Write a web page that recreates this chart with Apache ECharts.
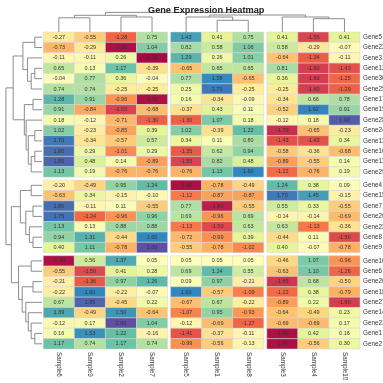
<!DOCTYPE html>
<html><head><meta charset="utf-8">
<script src="https://cdn.jsdelivr.net/npm/echarts@6/dist/echarts.min.js"></script>
<style>html,body{margin:0;padding:0;background:#fff}#c{width:383px;height:383px}</style>
</head><body><div id="c"></div>
<script>
const samples = ['Sample6','Sample9','Sample2','Sample7','Sample5','Sample1','Sample8','Sample3','Sample4','Sample10'];
const colGroups = [0,0,0,0,1,1,1,2,2,2];
const genes = ['Gene5','Gene22','Gene3','Gene12','Gene30','Gene25','Gene17','Gene19','Gene28','Gene24','Gene13','Gene16','Gene11','Gene29',
  'Gene4','Gene15','Gene7','Gene20','Gene23','Gene8','Gene9',
  'Gene10','Gene6','Gene26','Gene18','Gene27','Gene14','Gene21','Gene1','Gene2'];
const rowGroups = [0,0,0,0,0,0,0,0,0,0,0,0,0,0, 1,1,1,1,1,1,1, 2,2,2,2,2,2,2,2,2];
const clusterA = [
[-0.27,-0.55,-1.28,0.75,1.43,0.41,0.75,0.41,-1.55,0.41],
[-0.73,-0.29,-1.90,1.04,0.82,0.58,1.06,0.58,-0.29,-0.07],
[-0.11,-0.11,0.26,-1.95,1.29,0.26,1.01,-0.64,-1.34,-0.11],
[0.65,0.13,1.17,-0.39,-0.65,0.65,0.65,0.81,-1.60,-1.43],
[-0.04,0.77,0.36,-0.04,0.77,1.58,-0.65,0.36,-1.60,-1.25],
[0.74,0.74,-0.25,-0.25,0.25,1.71,-0.25,-0.25,-1.60,-1.29],
[1.28,0.91,-0.96,-1.90,0.16,-0.34,-0.09,-0.34,0.66,0.78],
[0.91,-0.84,-1.55,-0.68,-0.37,0.43,0.11,-0.52,1.62,0.91],
[0.18,-0.12,-0.71,-1.30,-1.30,1.07,0.18,-0.12,0.18,1.90],
[1.02,-0.23,-0.85,0.39,1.02,-0.39,1.22,-1.70,-0.65,-0.23],
[1.70,-0.34,-0.57,0.57,0.34,0.11,0.80,-1.43,-1.43,0.34],
[1.80,0.29,-1.01,0.29,-1.35,0.62,0.94,-0.58,-0.36,-0.68],
[1.85,0.48,0.14,-0.89,-1.55,0.82,0.48,-0.89,-0.55,0.14],
[1.13,0.19,-0.76,-0.76,-0.76,1.13,1.60,-1.22,-0.76,0.19]];
const clusterB = [
[-0.20,-0.49,0.95,1.24,-1.90,-0.78,-0.49,1.24,0.38,0.09],
[-0.63,0.34,-0.15,-0.10,-1.12,-0.87,-0.87,1.70,1.45,-0.15],
[1.80,-0.11,0.11,-0.55,0.77,-1.80,-0.55,0.55,0.33,-0.55],
[1.75,-1.24,-0.96,0.96,0.69,-0.96,0.69,-0.14,-0.14,-0.69],
[1.13,0.13,0.88,0.88,-1.13,-1.50,0.63,0.63,-1.13,-0.36],
[0.94,1.31,-0.44,1.60,-0.72,-0.99,0.39,-0.44,0.11,-1.50],
[0.40,1.11,-0.78,2.00,-0.55,-0.78,-1.02,0.40,-0.07,-0.78]];
const clusterC = [
[-1.90,0.56,1.37,0.05,0.05,0.05,0.05,-0.46,1.07,-0.96],
[-0.55,-1.50,0.41,0.28,0.69,1.24,0.55,-0.63,1.10,-1.26],
[-0.21,-1.36,0.97,1.26,0.09,0.97,-0.21,-1.65,0.68,-0.50],
[-0.22,1.60,-0.22,-0.07,1.60,-0.57,-1.09,-1.22,0.38,-0.79],
[0.67,1.85,-0.45,0.22,-0.67,0.67,-0.22,-0.89,0.22,-1.60],
[1.39,-0.49,1.50,-0.64,-1.07,0.95,-0.93,-0.64,-0.49,0.23],
[-0.12,0.17,2.00,1.04,-0.12,-0.69,-1.27,-0.69,-0.69,0.17],
[0.16,1.53,1.22,-0.16,-1.41,-0.37,-0.11,-1.90,0.42,0.16],
[1.17,0.74,1.17,0.74,-0.99,-0.56,-0.13,-1.90,-0.56,0.30]];
// hclust-style merges: negative = leaf (display order, 1-based), positive = earlier merge (1-based); third = height
const colMerge = [[-1,-2,14.2],[-3,-4,15],[1,2,16.7],[-6,-7,11.7],[-5,4,15],[-9,-10,13.3],[-8,6,15],[5,7,17],[3,8,19.6]];
const rowMerge = [
[-1,-2,2],[-4,-5,2],[2,-6,3],[-3,3,4],[1,4,5.3],
[-7,-8,2.5],[-10,-11,2],[-12,-13,2],[8,-14,3],[7,9,3.8],[-9,10,4.4],[6,11,4.9],[5,12,8],
[-15,-16,3],[-17,-18,2.5],[-20,-21,2.5],[-19,16,3.5],[15,17,4.5],[14,18,6],
[-22,-23,3],[-24,-25,2.5],[-29,-30,2],[-28,22,3],[-27,23,3.8],[-26,24,4.5],[21,25,5.5],[20,26,6.5],
[19,27,8.5],[13,28,10]];

const colGap = 0.097, rowGap = 0.29;
const nCol = samples.length, nRow = genes.length;
const xMax = nCol + 2*colGap, yMax = nRow + 2*rowGap;
const values = clusterA.concat(clusterB, clusterC);
const cellData = [];
values.forEach((row, r) => row.forEach((v, c) => cellData.push([c, r, v])));
const colPos = i => i + colGroups[i]*colGap + 0.5;
const rowPos = i => i + rowGroups[i]*rowGap + 0.5;

function buildTree(merge, leafPos){
  const nodes = [];
  const get = k => k < 0 ? {p: leafPos(-k-1), h: 0} : nodes[k-1];
  const segs = [];
  merge.forEach(m => {
    const a = get(m[0]), b = get(m[1]);
    segs.push([[a.p, a.h],[a.p, m[2]],[b.p, m[2]],[b.p, b.h]]);
    nodes.push({p:(a.p+b.p)/2, h:m[2]});
  });
  return segs;
}
const colSegs = buildTree(colMerge, colPos);
const rowSegs = buildTree(rowMerge, rowPos);
const spectral = ['#9E0142','#D53E4F','#F46D43','#FDAE61','#FEE08B','#FFFFBF','#E6F598','#ABDDA4','#66C2A5','#3288BD','#5E4FA2'];
const FONT = 'Liberation Sans';
const dendroColor = '#808080';

const chart = echarts.init(document.getElementById('c'), null, {renderer:'canvas'});
const hidden = {show:false};
chart.setOption({
  animation:false,
  backgroundColor:'#fff',
  title:{text:'Gene Expression Heatmap', left:143, top:1, textStyle:{fontSize:9.2, fontWeight:'bold', color:'#222', fontFamily:FONT}},
  grid:[
    {left:43.3, top:32, width:316.7, height:317},
    {left:43.3, top:12, width:316.7, height:20},
    {left:2, top:32, width:40, height:317}
  ],
  xAxis:[
    {type:'value', gridIndex:0, min:0, max:xMax, ...hidden},
    {type:'value', gridIndex:1, min:0, max:xMax, ...hidden},
    {type:'value', gridIndex:2, min:0, max:11.1, inverse:true, ...hidden}
  ],
  yAxis:[
    {type:'value', gridIndex:0, min:0, max:yMax, inverse:true, ...hidden},
    {type:'value', gridIndex:1, min:0, max:20, ...hidden},
    {type:'value', gridIndex:2, min:0, max:yMax, inverse:true, ...hidden}
  ],
  visualMap:{type:'continuous', show:false, min:-2, max:2, dimension:2, seriesIndex:0, inRange:{color:spectral}},
  series:[
    {type:'custom', xAxisIndex:0, yAxisIndex:0, data:cellData, encode:{x:0,y:1},
     renderItem(params, api){
       const c = api.value(0), r = api.value(1), v = api.value(2);
       const x0 = c + colGroups[c]*colGap, y0 = r + rowGroups[r]*rowGap;
       const p0 = api.coord([x0, y0]), p1 = api.coord([x0+1, y0+1]);
       return {type:'group', children:[
         {type:'rect', shape:{x:p0[0], y:p0[1], width:p1[0]-p0[0], height:p1[1]-p0[1]},
          style:{fill:api.visual('color'), stroke:'#d4d4d4', lineWidth:0.5}},
         {type:'text', x:(p0[0]+p1[0])/2, y:(p0[1]+p1[1])/2,
          style:{text:v.toFixed(2), align:'center', verticalAlign:'middle', fontSize:5.5, fill:'#333', fontFamily:FONT}}
       ]};
     }},
    {type:'custom', xAxisIndex:0, yAxisIndex:0, clip:false, data:genes.map((g,i)=>[i]),
     renderItem(params, api){
       const i = params.dataIndex;
       const p = api.coord([xMax, rowPos(i)]);
       return {type:'text', x:p[0]+3, y:p[1], style:{text:genes[i], align:'left', verticalAlign:'middle', fontSize:6.3, fill:'#333', fontFamily:FONT}};
     }},
    {type:'custom', xAxisIndex:0, yAxisIndex:0, clip:false, data:samples.map((s,i)=>[i]),
     renderItem(params, api){
       const i = params.dataIndex;
       const p = api.coord([colPos(i), yMax]);
       return {type:'text', x:p[0], y:p[1]+3, rotation:-Math.PI/2, style:{text:samples[i], align:'left', verticalAlign:'middle', fontSize:6.3, fill:'#333', fontFamily:FONT}};
     }},
    {type:'custom', xAxisIndex:1, yAxisIndex:1, clip:false, data:colSegs.map((s,i)=>[i]),
     renderItem(params, api){
       const pts = colSegs[params.dataIndex].map(q => api.coord(q));
       return {type:'polyline', shape:{points:pts}, style:{stroke:dendroColor, lineWidth:0.9, fill:null}};
     }},
    {type:'custom', xAxisIndex:2, yAxisIndex:2, clip:false, data:rowSegs.map((s,i)=>[i]),
     renderItem(params, api){
       const pts = rowSegs[params.dataIndex].map(q => api.coord([q[1], q[0]]));
       return {type:'polyline', shape:{points:pts}, style:{stroke:dendroColor, lineWidth:0.9, fill:null}};
     }}
  ]
});
</script></body></html>
